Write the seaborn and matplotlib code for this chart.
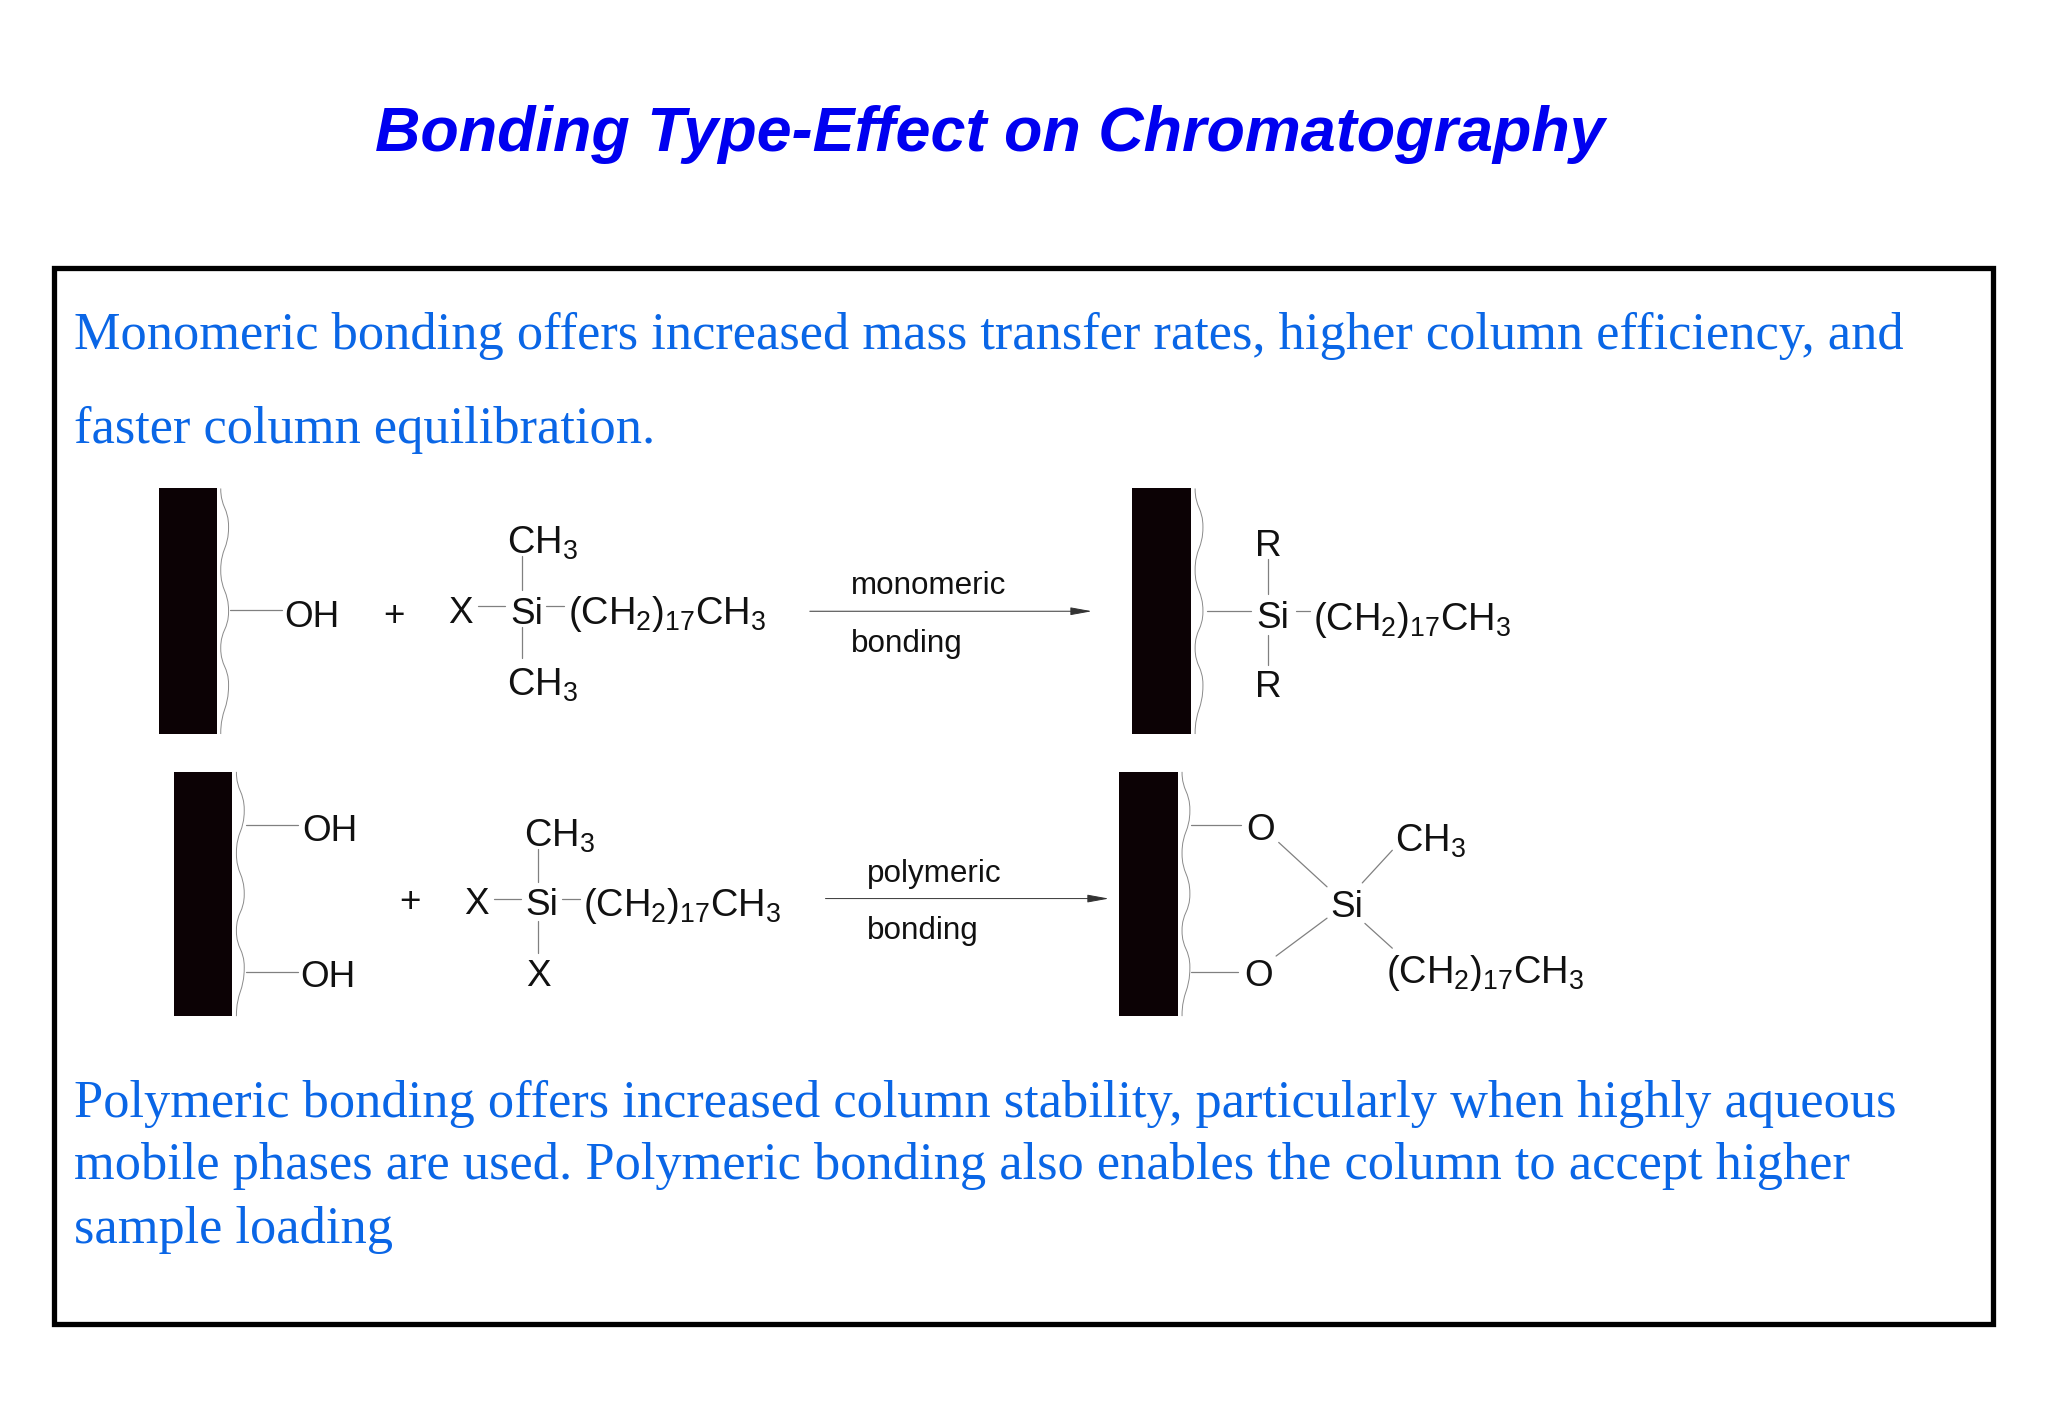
import matplotlib
matplotlib.use("Agg")
import matplotlib.pyplot as plt
from matplotlib.path import Path
from matplotlib.patches import PathPatch
import pandas as pd
import seaborn as sns

sns.set_theme(style="white")
plt.rcParams['font.family'] = ['Liberation Sans', 'DejaVu Sans']
plt.rcParams['mathtext.fontset'] = 'custom'
plt.rcParams['mathtext.rm'] = 'Liberation Sans'
plt.rcParams['mathtext.default'] = 'rm'

TITLE = "Bonding Type-Effect on Chromatography"
BODY = [
    ("Monomeric bonding offers increased mass transfer rates, higher column efficiency, and", 56.5, 267),
    ("faster column equilibration.", 56.5, 339),
    ("Polymeric bonding offers increased column stability, particularly when highly aqueous", 56.5, 855),
    ("mobile phases are used. Polymeric bonding also enables the column to accept higher", 56.5, 903),
    ("sample loading", 56.5, 951.5),
]
CHAIN = r"$\mathrm{(CH_2)_{17}CH_3}$"
CH3 = r"$\mathrm{CH_3}$"
LABELS = [
    ("OH", 217.5, 480), ("+", 293.5, 479), ("X", 343.5, 477), ("Si", 390.5, 478),
    ("R", 960.5, 426), ("Si", 961.5, 481), ("R", 960.5, 534),
    ("OH", 231.5, 644), ("OH", 229.5, 756), ("+", 305.5, 698), ("X", 355.5, 700), ("Si", 402.5, 700.5),
    ("X", 402.5, 755),
    ("O", 954.5, 643), ("O", 952.5, 755), ("Si", 1018.5, 702),
]
FORMULA_LABELS = [
    (CHAIN, 434.5, 478), (CH3, 388.5, 424), (CH3, 388.5, 533), (CHAIN, 1005.5, 482),
    (CHAIN, 446.5, 701), (CH3, 401.5, 648), (CH3, 1068, 652), (CHAIN, 1061.5, 753),
]
SMALL_LABELS = [("monomeric", 651.5, 455), ("bonding", 651.5, 499), ("polymeric", 663.5, 675), ("bonding", 663.5, 719)]
BONDS = [
    (176, 467, 216, 467), (366, 464, 387, 464), (418, 464, 432, 464), (400, 426, 400, 452), (400, 480, 400, 504),
    (924, 468, 958, 468), (971, 428, 971, 455), (971, 486, 971, 509), (992, 468, 1003, 468),
    (188, 632, 228, 632), (188, 744, 228, 744), (378, 688, 399, 688), (430, 688, 444, 688),
    (412, 650, 412, 675), (412, 705, 412, 730),
    (912, 632, 950, 632), (912, 744, 948, 744), (979, 645, 1016, 679), (977, 732, 1016, 703),
    (1043, 676, 1066, 651), (1045, 707, 1066, 726),
]
ARROWS = [(620, 468, 836, 468), (632, 688, 849, 688)]
BLOCKS = [(122, 166, 374, 562), (867, 912, 374, 562), (133, 178, 591, 778), (857, 902, 591, 778)]
WAVE_FRAC = [0, .157, .333, .5, .65, .8, 1]
WAVE_X = [0, 6, 0, 6, 0, 6, 0]

fig = plt.figure(figsize=(20.48, 14.18), dpi=100, facecolor="white")
ax = fig.add_axes([0, 0, 1, 1])

# frame
frame = [(41, 205), (1526, 205), (1526, 1014), (41, 1014), (41, 205)]
ax.add_patch(PathPatch(Path(frame + [(41, 205)], closed=True), fill=False, ec="black", lw=3.8, joinstyle="miter"))

ax.text(758, 115.3, TITLE, ha="center", va="baseline", color="#0000f0",
        fontsize=45.3, fontweight="bold", fontstyle="italic", family="Liberation Sans")
for t, x, y in BODY:
    ax.text(x, y, t, ha="left", va="baseline", color="#0a66e6", fontsize=37.7, family="Liberation Serif")

# bonds
rows = []
for i, (x0, y0, x1, y1) in enumerate(BONDS):
    rows += [dict(bond=i, x=x0, y=y0), dict(bond=i, x=x1, y=y1)]
df = pd.DataFrame(rows)
sns.lineplot(data=df, x="x", y="y", units="bond", estimator=None, sort=False,
             color="#808080", lw=0.9, ax=ax, legend=False)
ax.set_xlim(0, 1568)
ax.set_ylim(1085.7, 0)
ax.axis("off")

# solid supports and wavy surfaces
for x0, x1, y0, y1 in BLOCKS:
    ax.fill_between([x0, x1], y0, y1, color="#0c0205", lw=0)
    xb = x1 + 3
    verts = [(xb + WAVE_X[0], y0)]
    codes = [Path.MOVETO]
    for k in range(1, len(WAVE_FRAC)):
        ya = y0 + WAVE_FRAC[k - 1] * (y1 - y0)
        yb = y0 + WAVE_FRAC[k] * (y1 - y0)
        m = (ya + yb) / 2
        verts += [(xb + WAVE_X[k - 1], m), (xb + WAVE_X[k], m), (xb + WAVE_X[k], yb)]
        codes += [Path.CURVE4] * 3
    ax.add_patch(PathPatch(Path(verts, codes), fill=False, ec="#8a8a8a", lw=0.7))

for x0, y0, x1, y1 in ARROWS:
    ax.annotate("", xy=(x1, y1), xytext=(x0, y0),
                arrowprops=dict(arrowstyle="-|>,head_length=1.1,head_width=0.2", color="#333333",
                                lw=0.7, shrinkA=0, shrinkB=0))

for t, x, y in LABELS:
    ax.text(x, y, t, ha="left", va="baseline", color="#111111", fontsize=26.6, family="Liberation Sans")
for t, x, y in FORMULA_LABELS:
    ax.text(x, y, t, ha="left", va="baseline", color="#111111", fontsize=27.4, family="Liberation Sans")
for t, x, y in SMALL_LABELS:
    ax.text(x, y, t, ha="left", va="baseline", color="#111111", fontsize=22.6, family="Liberation Sans")

fig.savefig("out.png", dpi=100, facecolor="white")
